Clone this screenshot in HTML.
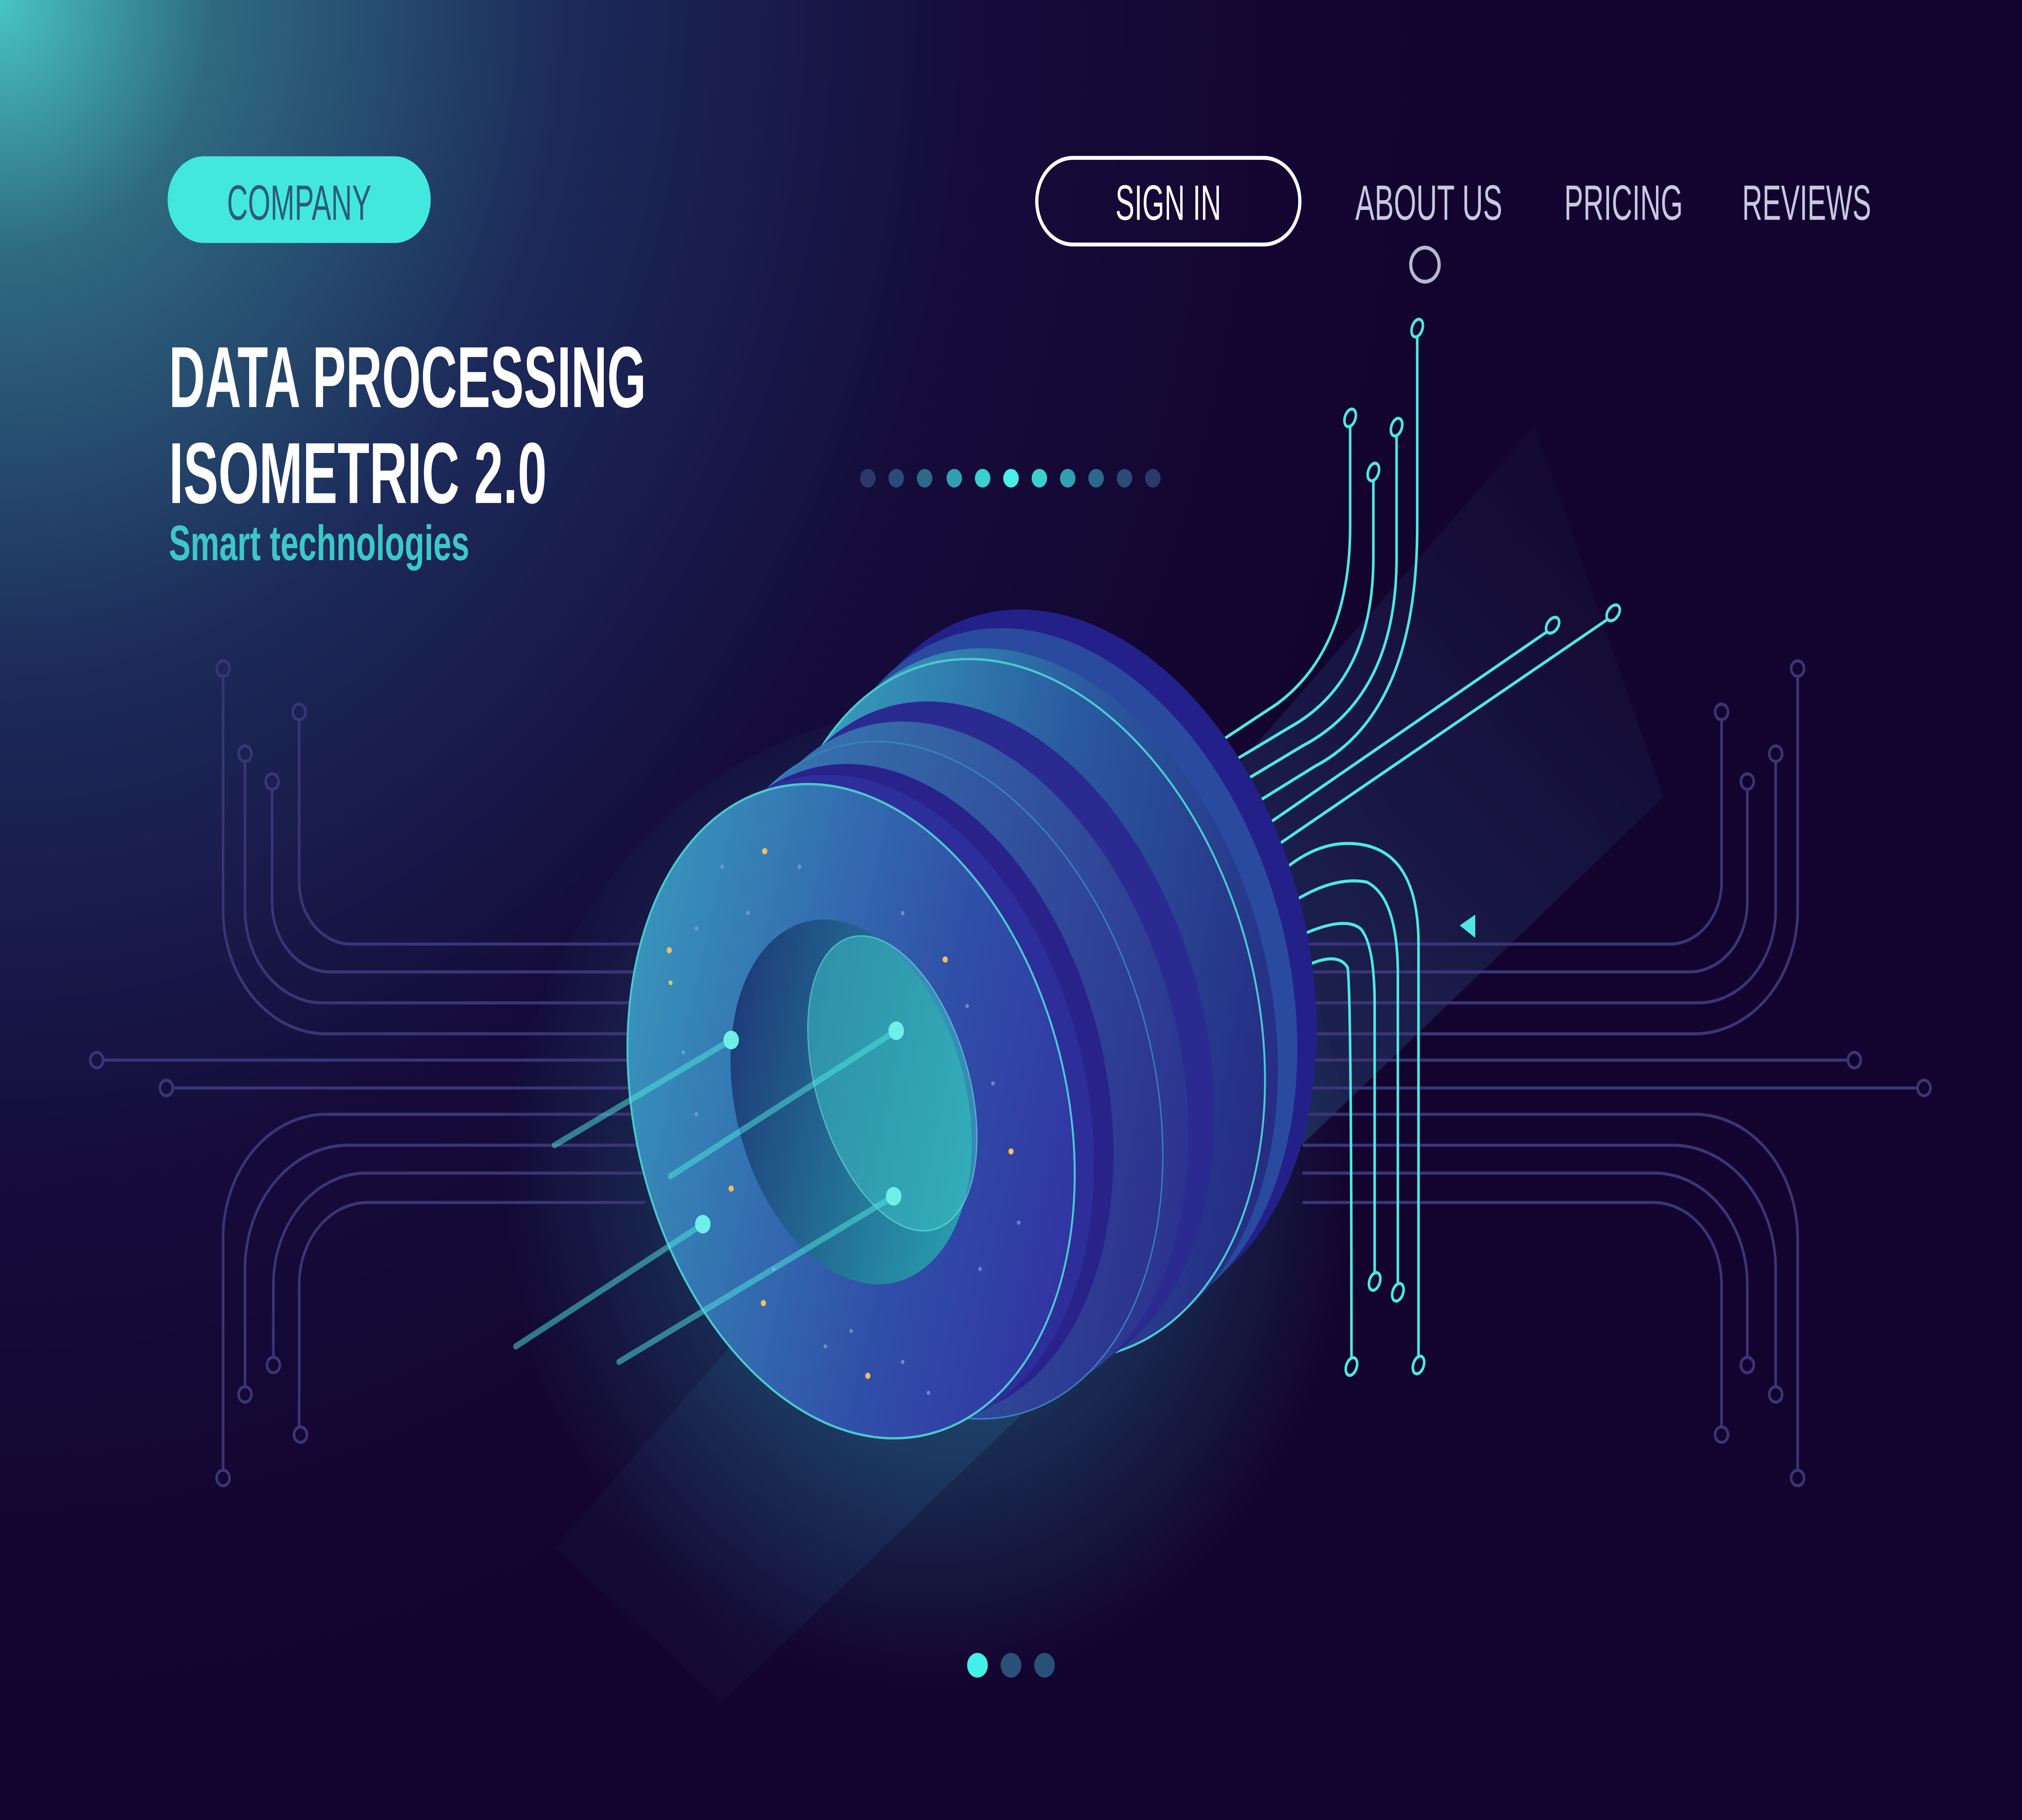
<!DOCTYPE html>
<html><head><meta charset="utf-8"><style>
html,body{margin:0;padding:0;background:#14052f;width:100%;height:100%;overflow:hidden;}
svg{display:block;position:fixed;left:0;top:0;width:100vw;height:100vh;}
</style></head><body>
<svg viewBox="0 0 1568 1176" preserveAspectRatio="none" xmlns="http://www.w3.org/2000/svg">
<defs>
<radialGradient id="bg" cx="0" cy="0" r="1100" gradientUnits="userSpaceOnUse">
<stop offset="0" stop-color="#48c4c4"/>
<stop offset="0.15" stop-color="#2f6a80"/>
<stop offset="0.4" stop-color="#1c2a5a"/>
<stop offset="0.7" stop-color="#150b3a"/>
<stop offset="1" stop-color="#13042f"/>
</radialGradient>
<radialGradient id="glow" cx="720" cy="760" r="330" gradientUnits="userSpaceOnUse">
<stop offset="0" stop-color="#2aa0b8" stop-opacity="0.55"/>
<stop offset="1" stop-color="#2aa0b8" stop-opacity="0"/>
</radialGradient>
<linearGradient id="beam" x1="0" y1="1" x2="1" y2="0">
<stop offset="0" stop-color="#1e4a78" stop-opacity="0"/>
<stop offset="0.5" stop-color="#2a5a8a" stop-opacity="0.45"/>
<stop offset="1" stop-color="#2a4a80" stop-opacity="0"/>
</linearGradient>
<linearGradient id="backd" x1="0" y1="0" x2="1" y2="1">
<stop offset="0" stop-color="#3ec0c8"/>
<stop offset="0.5" stop-color="#2a5aa0"/>
<stop offset="1" stop-color="#241a78"/>
</linearGradient>
<linearGradient id="midd" x1="0" y1="0" x2="1" y2="1">
<stop offset="0" stop-color="#3a8ab8"/>
<stop offset="1" stop-color="#2a2488"/>
</linearGradient>
<linearGradient id="front" x1="0" y1="0" x2="1" y2="1">
<stop offset="0" stop-color="#3aa8c0"/>
<stop offset="0.6" stop-color="#3050a8"/>
<stop offset="1" stop-color="#3226a0"/>
</linearGradient>
<linearGradient id="hole" x1="0" y1="0" x2="1" y2="1">
<stop offset="0" stop-color="#1c2a70"/>
<stop offset="1" stop-color="#2ab0b8"/>
</linearGradient>
</defs>
<rect width="1568" height="1176" fill="url(#bg)"/>

<polygon points="430,1000 1190,275 1290,515 560,1100" fill="url(#beam)"/>
<ellipse cx="720" cy="780" rx="330" ry="320" fill="url(#glow)"/>

<g fill="none" stroke="#3a3575" stroke-width="2">
<path d="M173,438 V588 A80,80 0 0 0 253,668 H500"/>
<path d="M190,492 V588 A60,60 0 0 0 250,648 H500"/>
<path d="M211,510 V583 A45,45 0 0 0 256,628 H500"/>
<path d="M232,465 V570 A40,40 0 0 0 272,610 H500"/>
<path d="M81,685 H500"/><path d="M135,703 H500"/>
<path d="M173,950 V800 A80,80 0 0 1 253,720 H500"/>
<path d="M190,896 V820 A80,80 0 0 1 270,740 H500"/>
<path d="M212,877 V830 A72,72 0 0 1 284,758 H500"/>
<path d="M232,922 V830 A53,53 0 0 1 285,777 H500"/>
<path d="M1394,438 V588 A80,80 0 0 1 1314,668 H1010"/>
<path d="M1377,492 V588 A60,60 0 0 1 1317,648 H1010"/>
<path d="M1355,510 V583 A45,45 0 0 1 1310,628 H1010"/>
<path d="M1335,465 V570 A40,40 0 0 1 1295,610 H1010"/>
<path d="M1432,685 H1010"/><path d="M1486,703 H1010"/>
<path d="M1394,950 V800 A80,80 0 0 0 1314,720 H1010"/>
<path d="M1377,896 V820 A80,80 0 0 0 1297,740 H1010"/>
<path d="M1355,877 V830 A72,72 0 0 0 1283,758 H1010"/>
<path d="M1335,922 V830 A53,53 0 0 0 1282,777 H1010"/>
<circle cx="173" cy="432" r="5"/><circle cx="190" cy="487" r="5"/><circle cx="211" cy="505" r="5"/><circle cx="232" cy="460" r="5"/>
<circle cx="75" cy="685" r="5"/><circle cx="129" cy="703" r="5"/>
<circle cx="173" cy="955" r="5"/><circle cx="190" cy="901" r="5"/><circle cx="212" cy="882" r="5"/><circle cx="233" cy="927" r="5"/>
<circle cx="1394" cy="432" r="5"/><circle cx="1377" cy="487" r="5"/><circle cx="1355" cy="505" r="5"/><circle cx="1335" cy="460" r="5"/>
<circle cx="1438" cy="685" r="5"/><circle cx="1492" cy="703" r="5"/>
<circle cx="1394" cy="955" r="5"/><circle cx="1377" cy="901" r="5"/><circle cx="1355" cy="882" r="5"/><circle cx="1335" cy="927" r="5"/>
</g>

<g fill="none" stroke="#4ee8e0" stroke-width="2">
<path d="M930,488 L990,455 Q1047,420 1047,340 V275"/>
<path d="M940,500 L1000,470 Q1065,440 1065,360 V310"/>
<path d="M950,512 L1010,482 Q1083,450 1083,360 V282"/>
<path d="M960,526 L1020,495 Q1099,460 1099,340 V218"/>
<path d="M970,540 L1200,408"/>
<path d="M975,555 L1247,400"/>
<path d="M985,570 Q1015,545 1045,545 Q1100,545 1100,610 V876"/>
<path d="M990,590 Q1030,565 1060,570 Q1084,580 1084,630 V829"/>
<path d="M995,610 Q1040,590 1055,600 Q1066,610 1066,650 V822"/>
<path d="M1000,630 Q1035,612 1045,625 Q1048,640 1048,877"/>
<ellipse cx="1099" cy="212" rx="4" ry="6" transform="rotate(25 1099 212)"/>
<ellipse cx="1047" cy="270" rx="4" ry="6" transform="rotate(25 1047 270)"/>
<ellipse cx="1083" cy="276" rx="4" ry="6" transform="rotate(25 1083 276)"/>
<ellipse cx="1065" cy="305" rx="4" ry="6" transform="rotate(25 1065 305)"/>
<ellipse cx="1204" cy="404" rx="4" ry="6" transform="rotate(45 1204 404)"/>
<ellipse cx="1251" cy="396" rx="4" ry="6" transform="rotate(45 1251 396)"/>
<ellipse cx="1048" cy="883" rx="4" ry="6" transform="rotate(25 1048 883)"/>
<ellipse cx="1066" cy="828" rx="4" ry="6" transform="rotate(25 1066 828)"/>
<ellipse cx="1084" cy="835" rx="4" ry="6" transform="rotate(25 1084 835)"/>
<ellipse cx="1100" cy="882" rx="4" ry="6" transform="rotate(25 1100 882)"/>
</g>
<polygon points="1144,591 1144,606 1132,598" fill="#4ee8e0"/>

<ellipse cx="830" cy="620" rx="180" ry="235" transform="rotate(-25 830 620)" fill="#24208a"/>
<ellipse cx="815" cy="632" rx="180" ry="235" transform="rotate(-25 815 632)" fill="#2a4aa0"/>
<ellipse cx="800" cy="645" rx="180" ry="235" transform="rotate(-25 800 645)" fill="url(#backd)"/>
<ellipse cx="790" cy="652" rx="180" ry="235" transform="rotate(-25 790 652)" fill="url(#backd)" stroke="#4ac8d0" stroke-width="1.5"/>
<ellipse cx="760" cy="672" rx="170" ry="228" transform="rotate(-25 760 672)" fill="#2a2a90"/>
<ellipse cx="740" cy="685" rx="170" ry="228" transform="rotate(-25 740 685)" fill="url(#midd)"/>
<ellipse cx="720" cy="698" rx="170" ry="228" transform="rotate(-25 720 698)" fill="url(#midd)" stroke="#3a80c0" stroke-width="1"/>
<ellipse cx="690" cy="705" rx="165" ry="218" transform="rotate(-22 690 705)" fill="#28228a"/>
<ellipse cx="675" cy="712" rx="165" ry="218" transform="rotate(-22 675 712)" fill="#2e2e9a"/>
<ellipse cx="660" cy="718" rx="165" ry="218" transform="rotate(-22 660 718)" fill="url(#front)" stroke="#4ac8d0" stroke-width="1.5"/>
<ellipse cx="660" cy="712" rx="88" ry="122" transform="rotate(-22 660 712)" fill="url(#hole)"/>
<ellipse cx="692" cy="700" rx="58" ry="100" transform="rotate(-22 692 700)" fill="#3ab8c0" opacity="0.6" stroke="#6ef0e8" stroke-width="1"/>

<g fill="#f0c060">
<circle cx="593" cy="550" r="2"/><circle cx="519" cy="614" r="2"/><circle cx="567" cy="768" r="2"/><circle cx="592" cy="842" r="2"/><circle cx="673" cy="889" r="2"/><circle cx="784" cy="744" r="2"/><circle cx="733" cy="620" r="2"/><circle cx="520" cy="635" r="1.5"/>
</g>
<g fill="#8aa0d8" opacity="0.7">
<circle cx="560" cy="560" r="1.4"/><circle cx="620" cy="560" r="1.4"/><circle cx="540" cy="600" r="1.4"/><circle cx="700" cy="590" r="1.4"/><circle cx="530" cy="680" r="1.4"/><circle cx="540" cy="720" r="1.4"/><circle cx="600" cy="820" r="1.4"/><circle cx="640" cy="870" r="1.4"/><circle cx="700" cy="880" r="1.4"/><circle cx="760" cy="820" r="1.4"/><circle cx="790" cy="790" r="1.4"/><circle cx="770" cy="700" r="1.4"/><circle cx="750" cy="650" r="1.4"/><circle cx="720" cy="900" r="1.4"/><circle cx="660" cy="860" r="1.4"/><circle cx="580" cy="590" r="1.4"/>
</g>
<g stroke="#4ee8e0" stroke-width="4" stroke-linecap="round" opacity="0.5">
<line x1="430" y1="740" x2="567" y2="672"/>
<line x1="520" y1="760" x2="695" y2="666"/>
<line x1="400" y1="870" x2="545" y2="791"/>
<line x1="480" y1="880" x2="693" y2="773"/>
</g>
<g fill="#6ef0e8"><circle cx="567" cy="672" r="6"/><circle cx="695" cy="666" r="6"/><circle cx="545" cy="791" r="6"/><circle cx="693" cy="773" r="6"/></g>

<rect x="130" y="101" width="204" height="56" rx="28" fill="#42e8de"/>
<text x="232" y="142" text-anchor="middle" font-family="Liberation Sans Narrow, Liberation Sans, sans-serif" font-size="32" fill="#2e5a7a" textLength="112" lengthAdjust="spacingAndGlyphs">COMPANY</text>
<rect x="804" y="102" width="204" height="56" rx="28" fill="none" stroke="#ffffff" stroke-width="2.5"/>
<text x="906" y="142" text-anchor="middle" font-family="Liberation Sans Narrow, Liberation Sans, sans-serif" font-size="32" fill="#ffffff" textLength="82" lengthAdjust="spacingAndGlyphs">SIGN IN</text>
<g font-family="Liberation Sans Narrow, Liberation Sans, sans-serif" font-size="32" fill="#c8c8e0">
<text x="1051" y="142" textLength="114" lengthAdjust="spacingAndGlyphs">ABOUT US</text>
<text x="1213" y="142" textLength="92" lengthAdjust="spacingAndGlyphs">PRICING</text>
<text x="1351" y="142" textLength="100" lengthAdjust="spacingAndGlyphs">REVIEWS</text>
</g>
<circle cx="1105" cy="171" r="11" fill="none" stroke="#b8b8d0" stroke-width="2.5"/>

<g font-family="Liberation Sans Narrow, Liberation Sans, sans-serif" font-weight="bold">
<text x="131" y="263" font-size="56" fill="#ffffff" textLength="370" lengthAdjust="spacingAndGlyphs">DATA PROCESSING</text>
<text x="131" y="325" font-size="56" fill="#ffffff" textLength="293" lengthAdjust="spacingAndGlyphs">ISOMETRIC 2.0</text>
<text x="131" y="362" font-size="32" fill="#3cc8c8" textLength="233" lengthAdjust="spacingAndGlyphs">Smart technologies</text>
</g>

<circle cx="673" cy="309" r="6" fill="#2a3a68"/><circle cx="695" cy="309" r="6" fill="#2a4a78"/><circle cx="717" cy="309" r="6" fill="#2a6a88"/><circle cx="740" cy="309" r="6" fill="#30a0b0"/><circle cx="762" cy="309" r="6" fill="#3ad0d0"/><circle cx="784" cy="309" r="6" fill="#48f0e8"/><circle cx="806" cy="309" r="6" fill="#3ad0d0"/><circle cx="828" cy="309" r="6" fill="#30a0b0"/><circle cx="850" cy="309" r="6" fill="#2a6a88"/><circle cx="872" cy="309" r="6" fill="#2a4a78"/><circle cx="894" cy="309" r="6" fill="#2a3a68"/>
<circle cx="758" cy="1076" r="8" fill="#42f0e8"/>
<circle cx="784" cy="1076" r="8" fill="#2a5078"/>
<circle cx="810" cy="1076" r="8" fill="#2a5078"/>
</svg>
</body></html>
